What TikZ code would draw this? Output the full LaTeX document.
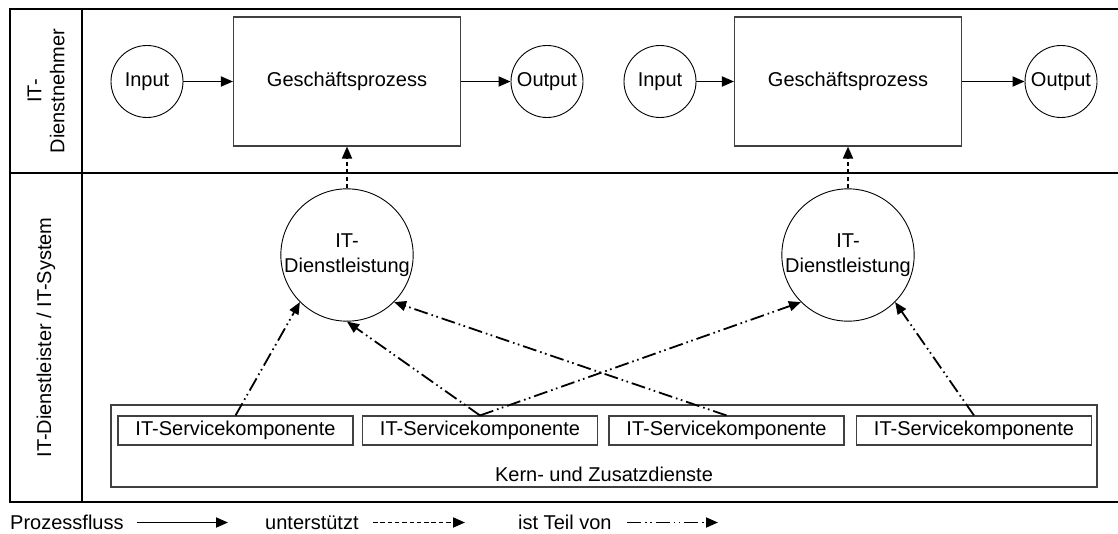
\documentclass[tikz,border=0pt]{standalone}
\usepackage{fontspec}
\setmainfont{Liberation Sans}
\usetikzlibrary{arrows.meta}
\begin{document}
\begin{tikzpicture}[x=1pt,y=-1pt,
  every node/.style={font=\fontsize{20}{23}\selectfont, inner sep=0pt},
  frame/.style={line width=1.6pt, black},
  proc/.style={draw=black!75, line width=1.1pt, minimum width=227pt, minimum height=129pt},
  io/.style={draw, circle, line width=0.9pt, minimum size=72pt},
  svc/.style={draw, circle, line width=0.9pt, minimum size=130pt, align=center,
              font=\fontsize{20}{25}\selectfont},
  comp/.style={draw=black!75, line width=1.1pt, minimum width=235pt, minimum height=29pt},
  flow/.style={line width=1.8pt, -{Triangle[length=12pt,width=10pt]}},
  supports/.style={flow, dash pattern=on 4.5pt off 2.8pt},
  partof/.style={flow, dash pattern=on 14pt off 4pt on 1.6pt off 3.5pt on 1.6pt off 4pt},
  lane/.style={rotate=90, align=center},
]
\useasboundingbox (0,0) rectangle (1118,533);

% swimlane frame
\draw[frame] (10,9) rectangle (82,502);
\draw[frame] (10,9) -- (1118,9);
\draw[frame] (10,173) -- (1118,173);
\draw[frame] (10,502) -- (1118,502);
\node[lane] (laneA) at (46,91) {IT-\\Dienstnehmer};
\node[lane] (laneB) at (46,337.5) {IT-Dienstleister / IT-System};

% business processes
\node[io]   (in1)  at (147,81.5)  {Input};
\node[proc] (gp1)  at (347,81.5)  {Gesch\"aftsprozess};
\node[io]   (out1) at (547,81.5)  {Output};
\node[io]   (in2)  at (660,81.5)  {Input};
\node[proc] (gp2)  at (848,81.5)  {Gesch\"aftsprozess};
\node[io]   (out2) at (1061,81.5) {Output};

\draw[flow] (in1) -- (gp1);
\draw[flow] (gp1) -- (out1);
\draw[flow] (in2) -- (gp2);
\draw[flow] (gp2) -- (out2);

% IT services
\node[svc] (itd1) at (347,255) {IT-\\Dienstleistung};
\node[svc] (itd2) at (848,255) {IT-\\Dienstleistung};

\draw[supports] (itd1) -- (gp1);
\draw[supports] (itd2) -- (gp2);

% service components
\node[draw=black!75, line width=1.1pt, minimum width=986pt, minimum height=82pt] (kz) at (604,446) {};
\node[anchor=base] (kzl) at (604,481.7) {Kern- und Zusatzdienste};
\node[comp] (c1) at (235.5,430.5) {IT-Servicekomponente};
\node[comp] (c2) at (480,430.5)   {IT-Servicekomponente};
\node[comp] (c3) at (726.5,430.5) {IT-Servicekomponente};
\node[comp] (c4) at (974,430.5)   {IT-Servicekomponente};

\draw[partof] (c1.north) -- (itd1.225);
\draw[partof] (c2.north) -- (itd1.270);
\draw[partof] (c2.north) -- (itd2.225);
\draw[partof] (c3.north) -- (itd1.315);
\draw[partof] (c4.north) -- (itd2.315);

% legend
\node[anchor=base west] (lg1) at (10,529)  {Prozessfluss};
\node[anchor=base west] (lg2) at (265,529) {unterst\"utzt};
\node[anchor=base west] (lg3) at (518,529) {ist Teil von};
\coordinate (l1a) at (137,522.5);
\coordinate (l1b) at (228,522.5);
\coordinate (l2a) at (373,522.5);
\coordinate (l2b) at (465,522.5);
\coordinate (l3a) at (627,522.5);
\coordinate (l3b) at (718,522.5);
\draw[flow] (l1a) -- (l1b);
\draw[supports] (l2a) -- (l2b);
\draw[partof] (l3a) -- (l3b);
\end{tikzpicture}
\end{document}
